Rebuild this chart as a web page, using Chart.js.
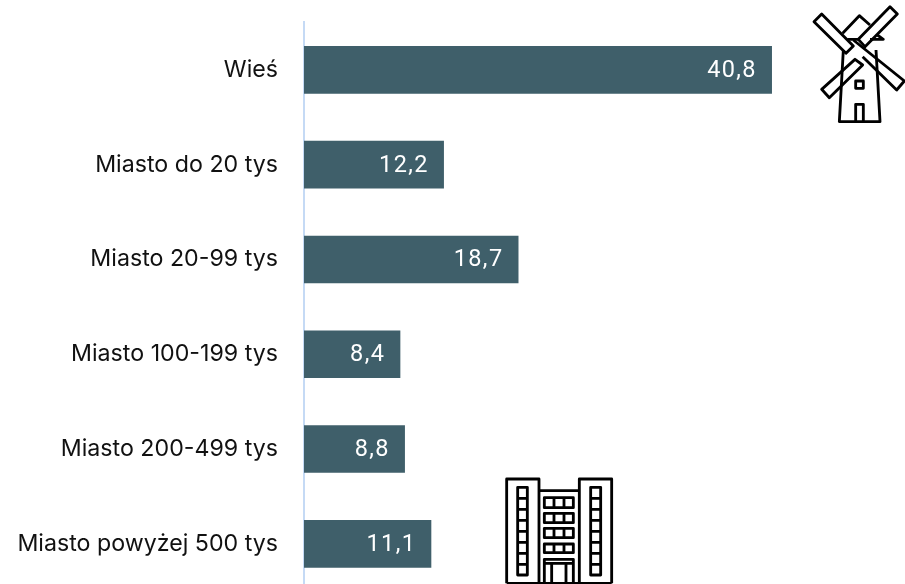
<!DOCTYPE html>
<html lang="pl">
<head>
<meta charset="utf-8">
<title>Miejsce zamieszkania</title>
<script src="https://cdn.jsdelivr.net/npm/chart.js@4"></script>
<style>
  html, body { margin: 0; height: 100%; background: #fff; overflow: hidden; }
  #wrap { position: relative; width: 905px; height: 584px; overflow: hidden; }
  canvas { position: absolute; left: 0; top: 0; }
  svg { position: absolute; fill: none; stroke: #000; stroke-width: 8.5; stroke-linejoin: round; }
</style>
</head>
<body>
<div id="wrap">
  <canvas id="places" width="905" height="600"></canvas>

  <!-- windmill -->
  <svg style="left:790px;top:0" width="115" height="135" viewBox="0 0 345 405">
    <path d="M95 42 L72 65 L168 160 L190 138 Z" />
    <path d="M190 120 L343 243 L320 270 L218 170" />
    <path d="M300 20 L322 42 L225 140 L205 118 Z" />
    <path d="M195 178 L218 195 L118 293 L95 268 Z" />
    <path d="M158 100 L208 47 L240 75 M172 118 H205 M240 118 H280 L262 105" />
    <path d="M160 150 L148 365 H270 L258 150" />
    <path d="M197 243 H220 V265 H197 Z" />
    <path d="M197 365 V313 H220 V365" />
  </svg>

  <!-- apartment block -->
  <svg style="left:490px;top:465px" width="135" height="119" viewBox="0 0 405 357">
    <path d="M50 355 V42 H147 V355 M268 355 V42 H365 V355 M50 355 H365" />
    <path d="M147 77 H268" />
    <path d="M83 67 H112 V330 H83 Z M83 100 H112 M83 133 H112 M83 166 H112 M83 199 H112 M83 232 H112 M83 265 H112 M83 298 H112" />
    <path d="M302 67 H332 V330 H302 Z M302 100 H332 M302 133 H332 M302 166 H332 M302 199 H332 M302 232 H332 M302 265 H332 M302 298 H332" />
    <path d="M163 98 H250 V128 H163 Z M192 98 V128 M222 98 V128" />
    <path d="M163 145 H250 V173 H163 Z M192 145 V173 M222 145 V173" />
    <path d="M163 190 H250 V218 H163 Z M192 190 V218 M222 190 V218" />
    <path d="M163 237 H250 V263 H163 Z M192 237 V263 M222 237 V263" />
    <path d="M163 355 V283 H250 V355 M163 295 H250 M185 295 V355 M228 295 V355" />
  </svg>
</div>

<script>
const categories = [
  "Wieś",
  "Miasto do 20 tys",
  "Miasto 20-99 tys",
  "Miasto 100-199 tys",
  "Miasto 200-499 tys",
  "Miasto powyżej 500 tys",
];
const shares = [40.8, 12.2, 18.7, 8.4, 8.8, 11.1];

function formatValue(v) {
  return v.toFixed(1).replace(".", ",");
}

// white value inside the end of each bar
const valueLabels = {
  id: "valueLabels",
  afterDatasetsDraw(chart) {
    const ctx = chart.ctx;
    const bars = chart.getDatasetMeta(0).data;
    ctx.save();
    ctx.font = "23.5px Roboto, sans-serif";
    ctx.letterSpacing = "1.4px";
    ctx.fillStyle = "#ffffff";
    ctx.textAlign = "right";
    ctx.textBaseline = "middle";
    bars.forEach((bar, i) => {
      ctx.fillText(formatValue(shares[i]), bar.x - 15, bar.y + 1);
    });
    ctx.restore();
  },
};

new Chart(document.getElementById("places").getContext("2d"), {
  type: "bar",
  data: {
    labels: categories,
    datasets: [
      {
        data: shares,
        backgroundColor: "#3f5f6a",
        barPercentage: 0.502,
        categoryPercentage: 1,
      },
    ],
  },
  options: {
    indexAxis: "y",
    responsive: false,
    animation: false,
    layout: {
      padding: { top: 22.45, bottom: 8.75, right: 27.5 },
    },
    scales: {
      x: {
        display: false,
        min: 0,
        max: 50,
      },
      y: {
        z: 1,
        grid: { display: false, drawTicks: false },
        border: { display: true, color: "#c5daf5", width: 2 },
        ticks: {
          padding: 26,
          color: "#111111",
          font: { family: "Inter, sans-serif", size: 23.2 },
        },
        afterFit(scale) {
          scale.width = 304;
          // tick padding would otherwise shrink the plot height
          scale.paddingTop = 0;
          scale.paddingBottom = 0;
        },
      },
    },
    plugins: {
      legend: { display: false },
      tooltip: { enabled: false },
    },
  },
  plugins: [valueLabels],
});
</script>
</body>
</html>
